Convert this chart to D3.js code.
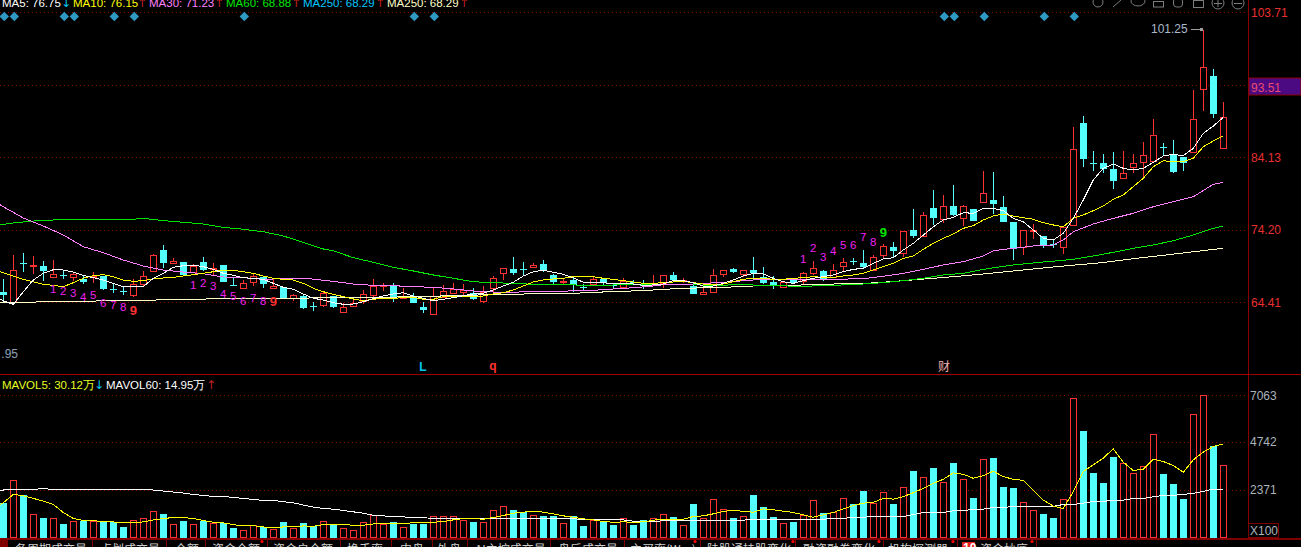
<!DOCTYPE html>
<html>
<head>
<meta charset="utf-8">
<script src="https://d3js.org/d3.v7.min.js"></script>
<style>
  html, body { margin: 0; background: #000; overflow: hidden; }
  svg { display: block; }
  text { font-family: "Liberation Sans", Arial, sans-serif; }
</style>
</head>
<body>
<div id="chart"></div>
<script>
// candles, one value per trading day
const opens = [
  65.80, 64.45, 69.68, 69.40, 69.27, 67.83, 68.10, 67.83, 67.52, 67.90,
  67.92, 66.21, 65.90, 65.35, 66.84, 68.64, 71.39, 69.72, 69.77, 68.42,
  69.81, 68.99, 69.36, 66.75, 66.34, 67.07, 67.74, 66.34, 66.48, 64.99,
  65.22, 63.91, 64.05, 65.22, 63.10, 63.91, 64.59, 65.40, 66.69, 66.57,
  64.91, 64.91, 63.73, 62.83, 65.04, 65.58, 65.80, 65.67, 64.59, 66.34,
  68.37, 68.87, 68.87, 69.18, 69.54, 68.06, 67.07, 67.38, 66.48, 66.88,
  67.56, 66.71, 66.44, 67.15, 66.66, 66.66, 66.93, 68.06, 67.20, 66.61,
  65.53, 65.80, 68.23, 68.87, 68.23, 68.73, 67.79, 67.11, 66.44, 67.38,
  67.29, 68.37, 68.60, 67.74, 69.31, 69.90, 69.68, 68.73, 70.80, 71.79,
  70.98, 74.13, 73.36, 77.15, 75.64, 77.42, 75.82, 76.97, 77.97, 78.24,
  77.28, 75.27, 71.88, 74.12, 73.32, 72.20, 71.88, 74.78, 88.55, 83.27,
  83.27, 82.49, 81.30, 82.80, 83.49, 83.62, 85.47, 84.48, 84.13, 84.74,
  92.95, 94.77, 85.26
];
const closes = [
  65.35, 68.73, 69.66, 69.42, 68.60, 68.15, 68.08, 68.15, 67.15, 67.93,
  66.17, 66.19, 65.88, 66.88, 67.96, 70.76, 69.72, 69.90, 68.06, 69.23,
  68.73, 69.01, 67.15, 66.73, 66.93, 67.88, 66.88, 66.57, 64.91, 65.31,
  63.56, 63.89, 65.58, 63.73, 63.69, 64.23, 65.45, 66.53, 66.73, 65.04,
  65.04, 64.32, 63.37, 65.22, 65.85, 66.17, 65.99, 64.86, 65.76, 67.61,
  68.96, 68.33, 68.85, 69.36, 68.73, 67.11, 67.25, 66.66, 66.46, 67.47,
  66.93, 66.69, 67.25, 67.13, 66.64, 66.84, 68.01, 67.38, 67.38, 65.53,
  65.76, 68.01, 68.69, 68.46, 68.69, 68.28, 66.93, 66.61, 67.07, 67.02,
  68.28, 68.96, 67.38, 68.69, 69.77, 69.88, 69.14, 70.44, 71.93, 71.34,
  73.95, 73.32, 76.15, 75.78, 77.38, 76.19, 77.38, 75.36, 79.20, 77.69,
  75.27, 71.52, 74.09, 74.14, 71.97, 72.18, 74.58, 85.13, 83.86, 83.25,
  82.49, 80.84, 81.90, 83.35, 84.35, 86.95, 85.45, 82.06, 83.35, 89.03,
  95.99, 89.74, 89.29
];
const highs = [
  67.52, 70.76, 71.03, 70.62, 69.95, 70.08, 68.73, 68.33, 67.96, 68.46,
  67.92, 67.02, 66.48, 67.47, 68.60, 70.89, 72.11, 70.35, 69.81, 69.54,
  70.49, 69.63, 69.36, 67.74, 67.38, 68.19, 67.79, 67.47, 66.48, 65.49,
  65.31, 64.45, 65.94, 65.22, 64.28, 64.77, 66.03, 67.52, 66.93, 66.93,
  66.26, 65.58, 64.45, 66.34, 66.66, 66.93, 66.84, 66.26, 66.57, 67.92,
  68.96, 70.49, 69.81, 69.68, 70.08, 68.19, 67.61, 67.83, 66.84, 67.96,
  67.65, 66.93, 67.65, 67.38, 67.38, 68.06, 68.01, 68.46, 67.65, 66.93,
  66.57, 68.87, 68.73, 69.04, 68.73, 70.49, 69.09, 67.92, 67.11, 67.38,
  68.46, 69.95, 68.73, 69.54, 70.31, 70.35, 71.43, 70.76, 72.24, 72.51,
  74.00, 76.97, 76.60, 79.61, 78.89, 80.30, 77.52, 77.01, 82.21, 82.04,
  78.79, 75.27, 74.13, 74.95, 73.32, 72.78, 74.68, 88.07, 89.46, 84.91,
  84.48, 84.78, 84.91, 84.52, 86.08, 89.07, 86.00, 86.34, 84.13, 92.86,
  101.25, 95.75, 91.30
];
const lows = [
  64.28, 64.28, 68.46, 68.19, 67.25, 67.83, 67.52, 67.25, 66.80, 67.02,
  66.03, 65.67, 65.35, 65.13, 66.48, 68.60, 68.96, 69.54, 67.96, 68.28,
  68.60, 68.06, 67.11, 66.71, 66.34, 66.57, 66.26, 66.34, 64.88, 64.55,
  63.47, 63.24, 63.78, 63.64, 63.10, 63.91, 64.14, 65.04, 65.90, 64.45,
  64.91, 64.32, 62.97, 62.83, 65.04, 65.49, 65.22, 64.68, 64.32, 65.80,
  67.38, 68.06, 68.06, 68.96, 68.46, 66.66, 66.71, 65.80, 66.03, 66.57,
  66.57, 66.30, 66.34, 66.84, 66.17, 66.66, 66.30, 67.29, 67.02, 65.53,
  65.35, 65.72, 67.74, 68.28, 67.74, 67.61, 66.84, 66.21, 66.34, 66.84,
  66.71, 68.06, 67.29, 67.61, 68.60, 69.41, 68.87, 68.64, 70.17, 70.44,
  70.53, 73.05, 73.32, 74.82, 75.05, 76.05, 74.72, 75.32, 77.79, 76.32,
  75.23, 70.08, 70.76, 72.96, 71.70, 71.70, 70.89, 74.68, 82.70, 82.16,
  81.90, 79.75, 81.30, 81.90, 81.30, 83.62, 84.39, 81.97, 82.25, 84.69,
  90.06, 89.26, 85.13
];

// fast averages, day -1 (off the left edge) then one value per day
const ma5 = [
  65.40,
  64.55, 64.10, 65.80, 67.38, 68.28, 68.77, 68.73, 68.46, 68.01, 67.69,
  67.38, 66.93, 66.48, 66.48, 66.48, 67.61, 68.28, 69.09, 69.31, 69.41,
  69.18, 68.82, 68.28, 68.01, 67.69, 67.61, 67.47, 66.93, 66.39, 66.12,
  65.49, 64.91, 64.68, 64.32, 64.10, 64.14, 64.45, 64.86, 65.22, 65.49,
  65.67, 65.22, 64.91, 64.59, 64.77, 64.99, 65.26, 65.49, 65.58, 66.03,
  66.57, 67.07, 67.92, 68.50, 68.69, 68.42, 68.15, 67.69, 67.07, 67.02,
  67.02, 66.84, 66.93, 66.84, 66.66, 66.71, 66.84, 67.29, 67.29, 67.02,
  66.57, 66.57, 66.93, 67.38, 67.92, 68.28, 68.19, 67.61, 67.15, 66.93,
  67.29, 67.61, 67.83, 68.06, 68.50, 68.82, 68.96, 69.63, 70.22, 70.39,
  71.43, 72.33, 73.45, 74.58, 75.50, 75.87, 76.50, 76.42, 77.10, 77.10,
  76.78, 75.73, 75.27, 74.13, 73.01, 72.78, 73.69, 75.73, 78.24, 80.98,
  82.58, 83.17, 82.58, 82.35, 82.58, 83.40, 84.26, 84.48, 84.30, 85.26,
  87.21, 88.16, 89.29
];
const ma10 = [
  68.80,
  68.37, 67.92, 67.47, 67.15, 66.80, 66.66, 66.48, 67.02, 67.61, 67.96,
  68.10, 67.83, 67.38, 67.20, 67.29, 67.52, 67.65, 67.74, 67.92, 68.10,
  68.28, 68.50, 68.73, 68.69, 68.50, 68.28, 67.92, 67.61, 67.47, 67.38,
  66.93, 66.26, 65.80, 65.45, 65.13, 64.82, 64.59, 64.77, 64.91, 64.86,
  65.04, 65.04, 64.77, 64.77, 65.13, 65.13, 65.22, 65.22, 65.22, 65.49,
  65.67, 66.03, 66.57, 67.11, 67.38, 67.52, 67.61, 67.83, 67.83, 67.83,
  67.61, 67.47, 67.29, 67.11, 66.93, 66.93, 67.02, 67.11, 67.20, 67.02,
  66.84, 66.75, 66.84, 67.15, 67.47, 67.65, 67.61, 67.47, 67.47, 67.61,
  67.69, 67.83, 67.74, 67.74, 67.92, 68.06, 68.28, 68.73, 69.18, 69.63,
  70.31, 70.62, 71.52, 72.33, 73.01, 73.59, 74.36, 74.72, 75.50, 76.05,
  76.32, 76.05, 75.82, 75.60, 75.13, 74.82, 74.58, 75.73, 76.19, 76.78,
  77.42, 78.34, 78.93, 80.07, 81.22, 82.80, 83.62, 83.49, 83.49, 83.96,
  85.47, 86.21, 86.86
];

// slow averages, read at the day numbers in the *Days lists
const ma30Days = [-1, 0, 2, 4, 6, 8, 10, 12, 14, 16, 18, 20, 22, 24, 26, 28, 30, 32, 33, 35, 37, 39, 41, 43, 45, 47, 49, 51, 53, 57, 59, 61, 63, 65, 66, 69, 72, 75, 78, 81, 83, 86, 88, 90, 92, 94, 96, 98, 99, 101, 103, 105, 106, 107, 109, 111, 113, 115, 117, 119, 121, 122];
const ma30 = [78.20, 77.32, 75.78, 74.68, 73.46, 71.88, 71.07, 70.08, 69.27, 68.73, 68.46, 68.23, 67.79, 67.69, 67.47, 67.56, 67.65, 67.34, 67.20, 66.84, 66.66, 66.61, 66.48, 66.39, 66.17, 65.90, 65.76, 65.72, 65.85, 65.90, 65.99, 66.17, 66.34, 66.57, 66.75, 66.84, 67.07, 67.38, 67.47, 67.47, 67.47, 67.56, 67.88, 68.28, 68.82, 69.41, 69.85, 70.62, 71.34, 71.66, 71.97, 72.11, 72.78, 73.90, 74.95, 75.73, 76.42, 77.32, 78.01, 78.69, 80.39, 80.67];
const ma60Days = [-1, 0, 1, 3, 5, 7, 9, 11, 13, 14, 16, 18, 20, 22, 24, 26, 28, 30, 32, 33, 35, 37, 39, 41, 43, 45, 47, 49, 51, 53, 57, 59, 63, 65, 66, 71, 74, 77, 80, 83, 86, 88, 90, 92, 94, 96, 98, 101, 104, 107, 109, 111, 113, 115, 117, 119, 121, 122];
const ma60 = [74.75, 74.91, 75.09, 75.36, 75.50, 75.60, 75.60, 75.60, 75.60, 75.73, 75.41, 75.19, 74.95, 74.50, 74.23, 73.90, 73.32, 72.47, 71.57, 71.34, 70.39, 69.77, 69.09, 68.60, 68.06, 67.61, 67.15, 67.02, 66.93, 66.80, 66.71, 66.66, 66.75, 66.75, 66.84, 66.66, 66.75, 66.61, 66.53, 66.66, 66.84, 67.02, 67.29, 67.61, 68.06, 68.28, 68.82, 69.41, 69.81, 70.17, 70.62, 71.12, 71.66, 72.11, 72.69, 73.46, 74.36, 74.68];
const ma250Days = [-1, 0, 3, 4, 9, 10, 15, 16, 20, 21, 30, 32, 38, 45, 50, 57, 59, 62, 65, 66, 68, 72, 75, 80, 84, 87, 90, 93, 95, 98, 101, 105, 110, 113, 116, 119, 122];
const ma250 = [64.32, 64.32, 64.37, 64.50, 64.50, 64.64, 64.64, 64.77, 64.77, 64.91, 64.91, 65.04, 65.04, 65.26, 65.45, 65.58, 65.72, 65.85, 66.03, 66.12, 66.26, 66.39, 66.57, 66.71, 66.88, 66.98, 67.29, 67.61, 67.83, 68.19, 68.60, 69.14, 69.74, 70.26, 70.71, 71.20, 71.66];

// volume panel, units of 100 lots
const volumes = [
  1707, 2850, 2104, 1210, 978, 1011, 679, 862, 862, 845,
  795, 795, 530, 911, 1011, 1309, 1176, 712, 829, 712,
  845, 762, 762, 480, 414, 646, 563, 464, 779, 514,
  729, 596, 862, 646, 514, 414, 812, 1143, 712, 795,
  563, 679, 712, 1077, 1077, 1077, 878, 795, 779, 1375,
  1574, 1375, 1276, 1127, 1094, 1094, 729, 1094, 596, 895,
  845, 646, 978, 646, 895, 978, 1176, 1044, 630, 1690,
  978, 1922, 1425, 994, 1094, 2138, 1541, 1044, 729, 795,
  1127, 1872, 1243, 1292, 1972, 1690, 2336, 1707, 2254, 1674,
  2502, 3314, 2999, 3463, 2751, 3712, 2900, 1972, 3894, 3960,
  2519, 2469, 1756, 1359, 1176, 978, 1906, 6926, 5302, 3215,
  2717, 4010, 3695, 3198, 3546, 5137, 3165, 2668, 1922, 6131,
  7075, 4557, 3596
];
const mavol5 = [
  1500,
  1740, 2154, 2088, 1955, 1823, 1657, 1259, 961, 862, 862,
  795, 795, 746, 762, 795, 895, 961, 1011, 1011, 961,
  862, 779, 746, 663, 596, 613, 547, 497, 547, 547,
  596, 580, 663, 663, 663, 630, 630, 696, 696, 712,
  696, 762, 762, 779, 812, 895, 961, 961, 928, 1011,
  1110, 1226, 1276, 1326, 1276, 1193, 1094, 1027, 945, 895,
  812, 779, 795, 779, 795, 878, 928, 928, 928, 1060,
  1094, 1193, 1309, 1375, 1309, 1276, 1442, 1392, 1326, 1259,
  1143, 1027, 1143, 1259, 1442, 1607, 1723, 1756, 1955, 1922,
  2038, 2237, 2452, 2701, 2900, 3215, 3148, 2949, 3082, 3297,
  3032, 2900, 2850, 2370, 1872, 1574, 1458, 2287, 3281, 3612,
  3944, 4408, 3745, 3331, 3397, 3894, 3778, 3579, 3248, 3861,
  4242, 4524, 4640
];
const mavol60 = [
  2370,
  2370, 2403, 2403, 2403, 2436, 2403, 2403, 2403, 2403, 2403,
  2403, 2403, 2403, 2403, 2403, 2370, 2320, 2270, 2220, 2154,
  2104, 2055, 2055, 2005, 1955, 1906, 1856, 1856, 1790, 1740,
  1624, 1524, 1458, 1425, 1359, 1292, 1226, 1127, 1094, 1044,
  1044, 994, 994, 978, 978, 978, 978, 978, 978, 978,
  978, 978, 978, 978, 978, 961, 961, 961, 895, 895,
  895, 895, 895, 829, 829, 829, 845, 845, 845, 878,
  878, 878, 878, 878, 878, 928, 928, 928, 928, 928,
  928, 928, 928, 961, 961, 1027, 1027, 1060, 1060, 1060,
  1060, 1160, 1259, 1259, 1259, 1342, 1342, 1425, 1425, 1508,
  1508, 1558, 1558, 1558, 1558, 1558, 1657, 1657, 1723, 1806,
  1806, 1872, 1872, 1955, 1955, 2038, 2104, 2104, 2154, 2204,
  2303, 2419, 2419
];

const priceTicks = [103.71, 93.51, 84.13, 74.20, 64.41];
const volTicks = [7063, 4742, 2371];

// markers on the chart
const signalDays = [0, 1, 6, 7, 11, 13, 24, 41, 43, 94, 95, 98, 104, 107];
const countDays = [5, 6, 7, 8, 9, 10, 11, 12, 13, 19, 20, 21, 22, 23, 24, 25, 26, 27, 80, 81, 82, 83, 84, 85, 86, 87, 88];
const countLabels = ['1', '2', '3', '4', '5', '6', '7', '8', '9', '1', '2', '3', '4', '5', '6', '7', '8', '9', '1', '2', '3', '4', '5', '6', '7', '8', '9'];
const countPrices = [66.12, 65.90, 65.58, 65.04, 65.35, 64.32, 64.00, 63.73, 63.24, 66.66, 66.93, 66.57, 65.45, 65.22, 64.59, 64.91, 64.59, 64.45, 70.22, 71.66, 70.49, 71.30, 72.06, 72.06, 73.14, 72.51, 73.77];

const tabLabels = ['各周期成交量', '点划成交量', '全额', '资金全额', '资金户全额', '换手率', '内盘', '外盘', 'AI主控成交量', '盘后成交量', '主买率(Wm)', '陆股通持股变化', '融资融券变化', '机构探测器', '资金抄底'];
const tabStarts = [15, 100, 175, 212, 273, 347, 400, 437, 475, 558, 630, 707, 803, 888, 980];
const tabLines = [7, 92, 166, 205, 267, 340, 391, 432, 467, 550, 624, 700, 795, 883, 957, 1036];
const tabDots = [262, 695, 793, 879, 953, 1032];

const width = 1301;
const height = 547;
const axisX = 1248;

const RED = '#ff3232';
const CYAN = '#54ffff';
const GRID = '#8a0000';
const AXIS = '#8c0000';

const svg = d3.select('#chart')
  .append('svg')
  .attr('width', width)
  .attr('height', height)
  .attr('viewBox', `0 0 ${width} ${height}`);

svg.append('rect').attr('width', width).attr('height', height).attr('fill', '#000');

// --- scales
const x = d3.scaleLinear().domain([0, 122]).range([3.3, 1223.3]);
const y = d3.scaleLinear().domain(priceTicks).range([12, 85, 157, 229.5, 302]);
const yVol = d3.scaleLinear().domain([0, 7063]).range([538, 395]);

const cx = i => Math.floor(x(i)) + 0.5;
const crisp = v => Math.round(v) + 0.5;

// --- grid
const grid = svg.append('g').attr('stroke', GRID).attr('stroke-dasharray', '1 3');
grid.selectAll('line.p')
  .data(priceTicks)
  .join('line')
  .attr('class', 'p')
  .attr('x1', 0).attr('x2', axisX)
  .attr('y1', d => crisp(y(d))).attr('y2', d => crisp(y(d)));
grid.selectAll('line.v')
  .data(volTicks)
  .join('line')
  .attr('class', 'v')
  .attr('x1', 0).attr('x2', axisX)
  .attr('y1', d => crisp(yVol(d))).attr('y2', d => crisp(yVol(d)));

// --- candles
const days = d3.range(opens.length);
const isUp = i => closes[i] >= opens[i];

const candles = svg.append('g').attr('shape-rendering', 'crispEdges');

candles.selectAll('line')
  .data(days)
  .join('line')
  .attr('x1', cx).attr('x2', cx)
  .attr('y1', i => y(highs[i])).attr('y2', i => y(lows[i]))
  .attr('stroke', i => isUp(i) ? RED : CYAN);

candles.selectAll('rect')
  .data(days)
  .join('rect')
  .attr('x', i => isUp(i) ? cx(i) - 3 : cx(i) - 3.5)
  .attr('width', i => isUp(i) ? 6 : 7)
  .attr('y', i => {
    const top = y(Math.max(opens[i], closes[i]));
    return isUp(i) ? crisp(top) : Math.round(top);
  })
  .attr('height', i => {
    const h = Math.round(y(Math.min(opens[i], closes[i]))) - Math.round(y(Math.max(opens[i], closes[i])));
    return Math.max(h, 1);
  })
  .attr('fill', i => isUp(i) ? '#000' : CYAN)
  .attr('stroke', i => isUp(i) ? RED : 'none');

// --- averages
const priceLine = d3.line().x(d => x(d[0])).y(d => y(d[1]));
const edgeDays = [-1].concat(days);
const maSeries = [
  { color: '#ffffc8', days: ma250Days, values: ma250 },
  { color: '#00e600', days: ma60Days, values: ma60 },
  { color: '#ff80ff', days: ma30Days, values: ma30 },
  { color: '#ffff00', days: edgeDays, values: ma10 },
  { color: '#ffffff', days: edgeDays, values: ma5 }
];
svg.append('g')
  .attr('shape-rendering', 'crispEdges')
  .selectAll('path')
  .data(maSeries)
  .join('path')
  .attr('d', s => priceLine(s.values.map((v, k) => [s.days[k], v])))
  .attr('fill', 'none')
  .attr('stroke', s => s.color)
  .attr('stroke-width', 1);

// --- signal diamonds
svg.append('g')
  .selectAll('path')
  .data(signalDays)
  .join('path')
  .attr('d', d3.symbol(d3.symbolSquare, 44))
  .attr('transform', i => `translate(${x(i) + 1},16.5) rotate(45)`)
  .attr('fill', '#2e9ac4');

// --- count labels
svg.append('g')
  .selectAll('text')
  .data(countDays)
  .join('text')
  .attr('x', d => x(d))
  .attr('y', (d, k) => y(countPrices[k]))
  .attr('text-anchor', 'middle')
  .attr('dominant-baseline', 'central')
  .attr('font-size', (d, k) => countLabels[k] === '9' ? 13 : 11.5)
  .attr('font-weight', (d, k) => countLabels[k] === '9' ? 'bold' : 'normal')
  .attr('fill', (d, k) => {
    if (countLabels[k] !== '9') return '#f020f0';
    return k === countLabels.length - 1 ? '#00e600' : RED;
  })
  .text((d, k) => countLabels[k]);

// --- highest price note
svg.append('text').attr('x', 1151).attr('y', 33).attr('font-size', 12).attr('fill', '#a9bacb').text('101.25');
svg.append('line').attr('x1', 1191).attr('x2', 1203).attr('y1', 29.5).attr('y2', 29.5).attr('stroke', '#a0a0a0');
svg.append('rect').attr('x', 1200).attr('y', 28).attr('width', 3).attr('height', 3).attr('fill', '#a0a0a0');

// --- letters under the candles
const noteText = (tx, ty, txt, color, bold) => svg.append('text')
  .attr('x', tx).attr('y', ty)
  .attr('font-size', 12)
  .attr('font-weight', bold ? 'bold' : 'normal')
  .attr('text-anchor', 'middle')
  .attr('fill', color)
  .text(txt);
noteText(423, 371, 'L', '#00c8f0', true);
noteText(493, 370, 'q', RED, true);
svg.append('text').attr('x', 944).attr('y', 371).attr('font-size', 12).attr('text-anchor', 'middle')
  .style('font-family', '"Noto Sans CJK SC"').attr('fill', '#f0b0b0').text('财');
svg.append('text').attr('x', 18).attr('y', 358).attr('font-size', 12).attr('text-anchor', 'end').attr('fill', '#8fa3b5').text('.95');

// --- volume bars
const bars = svg.append('g').attr('shape-rendering', 'crispEdges');
bars.selectAll('rect')
  .data(days)
  .join('rect')
  .attr('x', i => isUp(i) ? cx(i) - 3 : cx(i) - 3.5)
  .attr('width', i => isUp(i) ? 6 : 7)
  .attr('y', i => isUp(i) ? crisp(yVol(volumes[i])) : Math.round(yVol(volumes[i])))
  .attr('height', i => (isUp(i) ? 537.5 : 538) - (isUp(i) ? crisp(yVol(volumes[i])) : Math.round(yVol(volumes[i]))))
  .attr('fill', i => isUp(i) ? '#000' : CYAN)
  .attr('stroke', i => isUp(i) ? RED : 'none');

const volLine = d3.line().x((d, i) => x(i - 1)).y(d => yVol(d));
const volLines = svg.append('g').attr('shape-rendering', 'crispEdges').attr('fill', 'none');
volLines.append('path').attr('d', volLine(mavol60)).attr('stroke', '#ffffff');
volLines.append('path').attr('d', volLine(mavol5)).attr('stroke', '#ffff00');

// --- frame
svg.append('line').attr('x1', crisp(axisX)).attr('x2', crisp(axisX)).attr('y1', 0).attr('y2', 538).attr('stroke', AXIS);
svg.append('line').attr('x1', 0).attr('x2', width).attr('y1', 374.5).attr('y2', 374.5).attr('stroke', '#a00000');

// --- right axis labels
svg.append('rect').attr('x', 1249).attr('y', 78).attr('width', 52).attr('height', 17).attr('fill', '#4b0a82').attr('stroke', '#8c0000');
svg.append('g')
  .selectAll('text')
  .data(priceTicks)
  .join('text')
  .attr('x', 1251)
  .attr('y', d => y(d) + (d === 93.51 ? 6.5 : 4.5))
  .attr('font-size', 12)
  .attr('fill', d => d === 93.51 ? '#ea4a6e' : '#e83030')
  .text(d => d3.format('.2f')(d));
svg.append('g')
  .selectAll('text')
  .data(volTicks)
  .join('text')
  .attr('x', 1250)
  .attr('y', d => yVol(d) + 4.5)
  .attr('font-size', 12)
  .attr('fill', '#aab4bc')
  .text(d => d);
svg.append('rect').attr('x', 1248.5).attr('y', 523.5).attr('width', 30).attr('height', 14).attr('fill', '#000').attr('stroke', '#7a0000');
svg.append('text').attr('x', 1250).attr('y', 535).attr('font-size', 12).attr('fill', '#aab4bc').text('X100');

// --- legends
const legend = (ly, parts) => {
  const t = svg.append('text').attr('y', ly).attr('font-size', 11.5);
  parts.forEach(p => {
    const span = t.append('tspan').attr('x', p[0]).attr('fill', p[2]).text(p[1]);
    if (p[1].length === 1) span.style('font-family', '"DejaVu Sans"').attr('font-size', 12);
  });
};
legend(7, [
  [2, 'MA5: 76.75', '#ffffff'], [61, '↓', '#00c8f0'],
  [73, 'MA10: 76.15', '#ffff00'], [137, '↑', '#c02020'],
  [149, 'MA30: 71.23', '#ff80ff'], [214, '↑', '#c02020'],
  [226, 'MA60: 68.88', '#00e600'], [291, '↑', '#c02020'],
  [303, 'MA250: 68.29', '#00c8ff'], [375, '↑', '#c02020'],
  [387, 'MA250: 68.29', '#ffffc8'], [459, '↑', '#c02020']
]);
legend(389, [
  [2, 'MAVOL5: 30.12万', '#e6ff20'], [94, '↓', '#00c8f0'],
  [106, 'MAVOL60: 14.95万', '#ffffff'], [206, '↑', '#c02020']
]);

// --- toolbar icons, cut by the top edge
const icons = svg.append('g').attr('fill', 'none').attr('stroke', '#7c7c7c');
icons.append('circle').attr('cx', 1098).attr('cy', 2).attr('r', 5);
icons.append('line').attr('x1', 1113).attr('y1', 7).attr('x2', 1121).attr('y2', 0);
icons.append('ellipse').attr('cx', 1138).attr('cy', 1).attr('rx', 7).attr('ry', 5);
icons.append('rect').attr('x', 1153.5).attr('y', 1.5).attr('width', 10).attr('height', 5.5);
icons.append('rect').attr('x', 1173.5).attr('y', -2).attr('width', 9).attr('height', 9).attr('rx', 3);
icons.append('rect').attr('x', 1193.5).attr('y', 0.5).attr('width', 10).attr('height', 7);
icons.append('circle').attr('cx', 1218).attr('cy', 3).attr('r', 6);
icons.append('path').attr('d', 'M1214 3.5H1222M1218 0V7');
icons.append('circle').attr('cx', 1238).attr('cy', 3).attr('r', 6);
icons.append('path').attr('d', 'M1234 3.5H1242');

// --- bottom tab strip, the page cuts off the lower half of it
svg.append('rect').attr('x', 0).attr('y', 538).attr('width', width).attr('height', 2).attr('fill', '#800000');
svg.append('rect').attr('x', 0).attr('y', 540).attr('width', 7).attr('height', 7).attr('fill', '#800000');
svg.append('g')
  .selectAll('line')
  .data(tabLines)
  .join('line')
  .attr('x1', d => d + 0.5).attr('x2', d => d + 0.5)
  .attr('y1', 540).attr('y2', 547)
  .attr('stroke', '#800000');
svg.append('g')
  .selectAll('text')
  .data(tabLabels)
  .join('text')
  .attr('x', (d, i) => tabStarts[i])
  .attr('y', 554)
  .attr('font-size', 12)
  .style('font-family', '"Noto Sans CJK SC"')
  .attr('fill', '#d0d0d0')
  .text(d => d);
svg.append('g')
  .selectAll('circle')
  .data(tabDots)
  .join('circle')
  .attr('cx', d => d).attr('cy', 541.5).attr('r', 1.6)
  .attr('fill', '#ff0000');
svg.append('rect').attr('x', 962).attr('y', 542).attr('width', 13).attr('height', 5).attr('fill', '#e82020');
svg.append('text').attr('x', 963).attr('y', 552).attr('font-size', 12).attr('font-weight', 'bold').attr('fill', '#fff').text('10');
</script>
</body>
</html>
